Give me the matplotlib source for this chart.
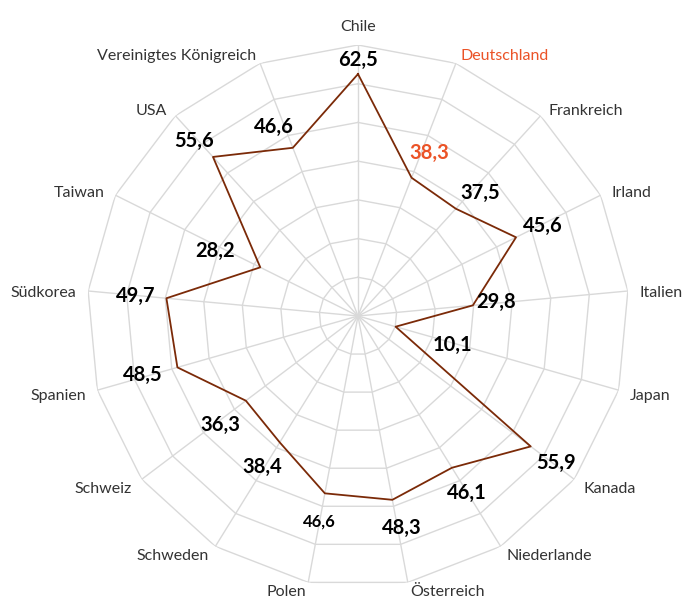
import numpy as np
import matplotlib
matplotlib.use("Agg")
import matplotlib.pyplot as plt

categories = ["Chile", "Deutschland", "Frankreich", "Irland", "Italien", "Japan",
              "Kanada", "Niederlande", "Österreich", "Polen", "Schweden", "Schweiz",
              "Spanien", "Südkorea", "Taiwan", "USA", "Vereinigtes Königreich"]
values = [62.5, 38.3, 37.5, 45.6, 29.8, 10.1, 55.9, 46.1, 48.3, 46.6, 38.4, 36.3,
          48.5, 49.7, 28.2, 55.6, 46.6]
ring_values = [10, 20, 30, 40, 50, 60, 70]
highlight = "Deutschland"

# label offsets in pixels (dx right, dy down) relative to each point
label_offsets = [(0, -14), (18, -25), (24, -16), (27, -11), (23, -3), (57, 18),
                 (25, 17), (15, 25), (9, 28), (-6, 28), (-18, 25), (-26, 24),
                 (-35, 8), (-31, -2), (-45, -16), (-19, -16), (-19, -21)]

plt.rcParams['font.family'] = ['Lato', 'DejaVu Sans']

fig = plt.figure(figsize=(6.89, 6.01), dpi=100)
ax = fig.add_axes([(358 - 271) / 689, 14 / 601, 542 / 689, 542 / 601],
                  projection='polar')
ax.set_theta_zero_location('N')
ax.set_theta_direction(-1)
ax.set_ylim(0, ring_values[-1])
ax.grid(False)
ax.spines['polar'].set_visible(False)
ax.set_xticks([])
ax.set_yticks([])
ax.patch.set_alpha(0)

n = len(categories)
angles = np.arange(n) * 2 * np.pi / n
grid_color = "#d9d9d9"

for r in ring_values:
    a = np.append(angles, angles[0])
    ax.plot(a, [r] * len(a), color=grid_color, lw=1, zorder=1)
for a in angles:
    ax.plot([a, a], [0, ring_values[-1]], color=grid_color, lw=1, zorder=1)

av = np.append(angles, angles[0])
vv = values + [values[0]]
ax.plot(av, vv, color="#7B2A08", lw=1.3, zorder=3)

orange = "#EB5327"
for i, (cat, v) in enumerate(zip(categories, values)):
    dx, dy = label_offsets[i]
    col = orange if cat == highlight else "black"
    fs = 12 if cat == "Polen" else 14.5
    ax.annotate(f"{v:.1f}".replace(".", ","), xy=(angles[i], v),
                xytext=(dx, -dy), textcoords='offset pixels',
                ha='center', va='center', fontsize=fs, fontweight='bold',
                color=col, zorder=4)
    s, c = np.sin(angles[i]), np.cos(angles[i])
    if abs(s) < 0.05:
        ha, ox, oy = 'center', 0, 18
    else:
        ha = 'left' if s > 0 else 'right'
        ox, oy = 12 * s, max(11 * c - 3, -10)
    ax.annotate(cat, xy=(angles[i], ring_values[-1]),
                xytext=(ox, oy), textcoords='offset pixels',
                ha=ha, va='center', fontsize=11.5,
                color=(orange if cat == highlight else "#333333"),
                annotation_clip=False)

fig.savefig("out.png", dpi=100)
